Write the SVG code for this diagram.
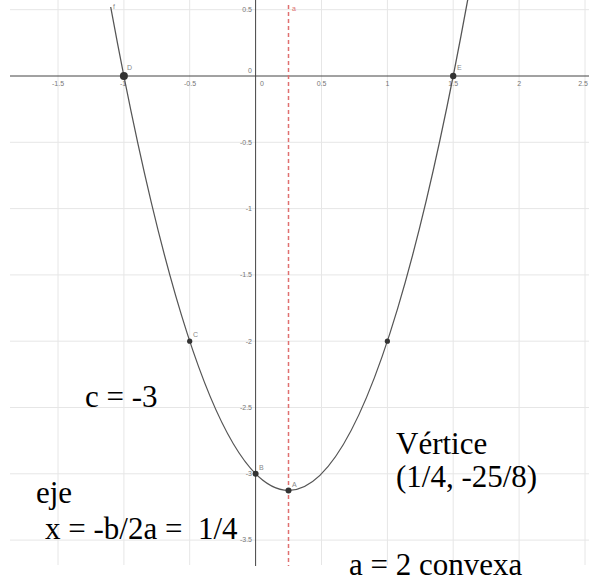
<svg xmlns="http://www.w3.org/2000/svg" width="589" height="585" viewBox="0 0 589 585">
<style>
.grid line{stroke:#e6e6e6;stroke-width:1}
.axis{stroke:#444;stroke-width:1}
.tick{font-family:"Liberation Sans",Arial,sans-serif;font-size:7px;fill:#777}
.plab{font-family:"Liberation Sans",Arial,sans-serif;font-size:7px;fill:#888}
.big{font-family:"Liberation Serif","Times New Roman",serif;font-size:31px;fill:#000}
.pt{fill:#333}
</style>
<rect width="589" height="585" fill="#fff"/>
<g id="grid" class="grid">
<line x1="58" y1="0" x2="58" y2="565"/>
<line x1="123.9" y1="0" x2="123.9" y2="565"/>
<line x1="189.7" y1="0" x2="189.7" y2="565"/>
<line x1="321.5" y1="0" x2="321.5" y2="565"/>
<line x1="387.4" y1="0" x2="387.4" y2="565"/>
<line x1="453.2" y1="0" x2="453.2" y2="565"/>
<line x1="519.1" y1="0" x2="519.1" y2="565"/>
<line x1="585" y1="0" x2="585" y2="565"/>
<line x1="10" y1="9.7" x2="589" y2="9.7"/>
<line x1="10" y1="142.3" x2="589" y2="142.3"/>
<line x1="10" y1="208.6" x2="589" y2="208.6"/>
<line x1="10" y1="274.9" x2="589" y2="274.9"/>
<line x1="10" y1="341.2" x2="589" y2="341.2"/>
<line x1="10" y1="407.5" x2="589" y2="407.5"/>
<line x1="10" y1="473.8" x2="589" y2="473.8"/>
<line x1="10" y1="540.1" x2="589" y2="540.1"/>
</g>
<g id="axes">
<line class="axis" x1="10" y1="76" x2="589" y2="76"/>
<line class="axis" x1="255.6" y1="0" x2="255.6" y2="566"/>
<g class="tick" text-anchor="middle">
<text x="58" y="86">-1.5</text>
<text x="123" y="86">-1</text>
<text x="190" y="86">-0.5</text>
<text x="262" y="86">0</text>
<text x="321.5" y="86">0.5</text>
<text x="387.4" y="86">1</text>
<text x="453.2" y="86">1.5</text>
<text x="519.1" y="86">2</text>
<text x="583" y="86">2.5</text>
</g>
<g class="tick" text-anchor="end">
<text x="252" y="12">0.5</text>
<text x="252" y="73">0</text>
<text x="252" y="145">-0.5</text>
<text x="252" y="211">-1</text>
<text x="252" y="277">-1.5</text>
<text x="252" y="344">-2</text>
<text x="252" y="410">-2.5</text>
<text x="252" y="476">-3</text>
<text x="252" y="542">-3.5</text>
</g>
</g>
<g id="connectors">
<line id="eje" x1="288.5" y1="5" x2="288.5" y2="566" stroke="#e07070" stroke-width="1.5" stroke-dasharray="4 3"/>
<path id="parabola" d="M110.7 7 Q289.2 977.3 467.7 -0.1" fill="none" stroke="#555" stroke-width="1.3"/>
</g>
<g id="points">
<g id="pD"><circle class="pt" cx="123.9" cy="76" r="4"/><text class="plab" x="127" y="70">D</text></g>
<g id="pE"><circle class="pt" cx="453.2" cy="76" r="3.2"/><text class="plab" x="457" y="70">E</text></g>
<g id="pC"><circle class="pt" cx="189.7" cy="341.2" r="2.6"/><text class="plab" x="193" y="337">C</text></g>
<g id="pF"><circle class="pt" cx="387.4" cy="341.2" r="2.6"/></g>
<g id="pB"><circle class="pt" cx="255.6" cy="473.8" r="3"/><text class="plab" x="259" y="470">B</text></g>
<g id="pA"><circle class="pt" cx="288.5" cy="490.4" r="3"/><text class="plab" x="292" y="487">A</text></g>
<text class="plab" x="113" y="9">f</text>
<text class="plab" x="292" y="11" fill="#e07070" style="fill:#e07070">a</text>
</g>
<g id="labels">
<text class="big" x="85" y="407">c = -3</text>
<text class="big" x="36" y="503">eje</text>
<text class="big" x="45" y="539" xml:space="preserve">x = -b/2a =  1/4</text>
<text class="big" x="396" y="454">Vértice</text>
<text class="big" x="396" y="487">(1/4, -25/8)</text>
<text class="big" x="349" y="575">a = 2 convexa</text>
</g>
</svg>
